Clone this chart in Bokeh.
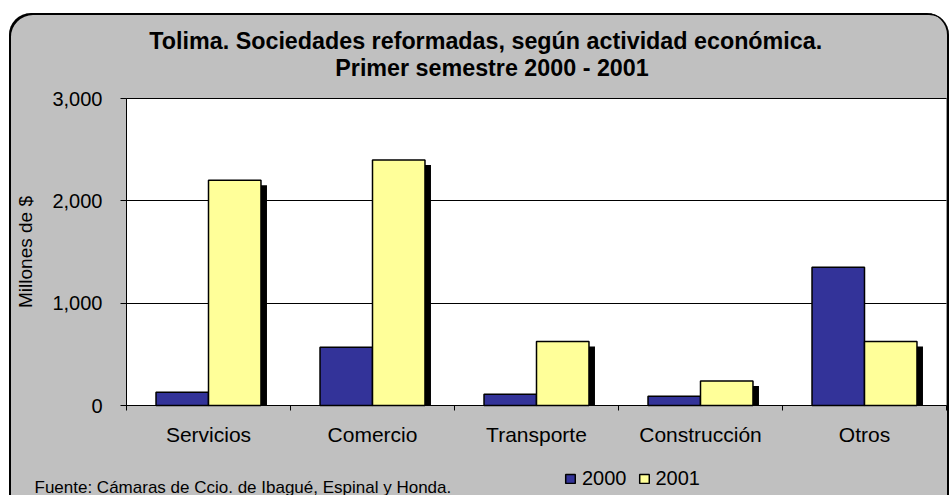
from bokeh.plotting import figure
from bokeh.models import (ColumnDataSource, FixedTicker, NumeralTickFormatter, Label,
                          BoxAnnotation, Legend, LegendItem, Range1d)
from bokeh.transform import dodge
from bokeh.embed import file_html
from bokeh.resources import INLINE

# ---- data ----
categories = ["Servicios", "Comercio", "Transporte", "Construcción", "Otros"]
values_2000 = [130, 570, 110, 90, 1350]
values_2001 = [2200, 2400, 625, 240, 625]
series_names = ["2000", "2001"]
y_ticks = [0, 1000, 2000, 3000]
y_max = 3000
title_lines = ["Tolima.  Sociedades reformadas, según actividad económica.",
               "Primer semestre 2000 - 2001"]
source_note = "Fuente: Cámaras de Ccio. de Ibagué, Espinal y Honda."
y_label = "Millones de $"

# ---- layout (page pixels) ----
PAGE_W, PAGE_H = 949, 495
OFF_X, OFF_Y = 9, 13                 # white strip left of / above the rounded panel
W, H = PAGE_W - OFF_X, PAGE_H - OFF_Y
PLOT_L, PLOT_R, PLOT_T, PLOT_B = 126, 946, 98, 405   # white plotting area
FONT = "Liberation Sans"
GRAY = "#C0C0C0"
C2000 = "#333399"
C2001 = "#FFFF99"
BAR_W = 0.32
SH_DX_PX, SH_DY_PX = 6, 5

n = len(categories)
px_per_cat = (PLOT_R - PLOT_L) / n
px_per_unit = (PLOT_B - PLOT_T) / y_max
x_range = Range1d(-(PLOT_L - OFF_X) / px_per_cat, n + (PAGE_W - PLOT_R) / px_per_cat)
y_range = Range1d(-(PAGE_H - PLOT_B) / px_per_unit, y_max + (PLOT_T - OFF_Y) / px_per_unit)

centers = [i + 0.5 for i in range(n)]
src = ColumnDataSource(dict(x=centers, cat=categories, v2000=values_2000, v2001=values_2001))

p = figure(width=W, height=H, x_range=x_range, y_range=y_range,
           output_backend="svg", toolbar_location=None,
           min_border=0, min_border_left=0, min_border_right=0, min_border_top=0,
           min_border_bottom=0, background_fill_color=None, border_fill_color=None,
           outline_line_color=None, margin=(OFF_Y, 0, 0, OFF_X))
p.title.visible = False
p.styles = {"background-color": GRAY,
            "border-radius": "22px 22px 0 0",
            "box-shadow": "inset 2px 2px 0 0 black, inset -2px 0 0 0 black"}

# white plotting area with black frame
p.add_layout(BoxAnnotation(left=0, right=n, bottom=0, top=y_max, fill_color="white",
                           fill_alpha=1, line_color="black", line_width=1, level="image"))

# grid lines limited to the plotting area
p.xgrid.grid_line_color = None
p.ygrid.ticker = FixedTicker(ticks=y_ticks)
p.ygrid.grid_line_color = "black"
p.ygrid.grid_line_width = 1
try:
    p.ygrid.cross_bounds = (0, n)
except Exception:
    p.ygrid.visible = False
    p.segment(x0=0, x1=n, y0=y_ticks, y1=y_ticks, line_color="black", line_width=1,
              level="underlay")

# bars (2001 series carries a drop shadow)
r2000 = p.vbar(x=dodge("x", -BAR_W / 2, range=p.x_range), top="v2000", bottom=0, width=BAR_W,
               source=src, fill_color=C2000, line_color="black", line_width=1.5)
dx = SH_DX_PX / px_per_cat
dy = -SH_DY_PX / px_per_unit
p.vbar(x=dodge("x", BAR_W / 2 + dx, range=p.x_range), top=dodge("v2001", dy, range=p.y_range),
       bottom=0, width=BAR_W, source=src, fill_color="black", line_color=None)
r2001 = p.vbar(x=dodge("x", BAR_W / 2, range=p.x_range), top="v2001", bottom=0, width=BAR_W,
               source=src, fill_color=C2001, line_color="black", line_width=1.5)

# y axis
ya = p.yaxis[0]
ya.fixed_location = 0
ya.bounds = (0, y_max)
ya.ticker = FixedTicker(ticks=y_ticks)
ya.formatter = NumeralTickFormatter(format="0,0")
ya.major_tick_out = 6
ya.major_tick_in = 0
ya.minor_tick_line_color = None
ya.axis_line_color = "black"
ya.major_tick_line_color = "black"
ya.major_label_text_font = FONT
ya.major_label_text_font_size = "20px"
ya.major_label_text_color = "black"
ya.major_label_standoff = 18
ya.axis_label = y_label
ya.axis_label_text_font = FONT
ya.axis_label_text_font_size = "19px"
ya.axis_label_text_font_style = "normal"
ya.axis_label_text_color = "black"
ya.axis_label_standoff = 13

# x axis: labels at category centres, ticks at category boundaries
xa = p.xaxis[0]
xa.fixed_location = 0
xa.bounds = (0, n)
xa.ticker = FixedTicker(ticks=centers, minor_ticks=list(range(n + 1)))
xa.major_label_overrides = {c: name for c, name in zip(centers, categories)}
xa.major_tick_line_color = None
xa.major_tick_out = 0
xa.major_tick_in = 0
xa.minor_tick_out = 5
xa.minor_tick_in = 0
xa.minor_tick_line_color = "black"
xa.axis_line_color = "black"
xa.major_label_text_font = FONT
xa.major_label_text_font_size = "21px"
xa.major_label_text_color = "black"
xa.major_label_standoff = 12

# title (two lines), positions in screen px from the panel's bottom-left
for txt, cx, base in [(title_lines[0], 488.5, 40.7), (title_lines[1], 491.5, 67.7)]:
    p.add_layout(Label(x=cx - OFF_X, y=PAGE_H - base, x_units="screen", y_units="screen",
                       text=txt, text_font=FONT, text_font_size="23.3px", text_font_style="bold",
                       text_align="center", text_baseline="alphabetic", text_color="black"))

# source note
p.add_layout(Label(x=34 - OFF_X, y=PAGE_H - 486.5, x_units="screen", y_units="screen",
                   text=source_note, text_font=FONT, text_font_size="17px",
                   text_align="left", text_baseline="alphabetic", text_color="black"))

# legend
legend = Legend(items=[LegendItem(label=series_names[0], renderers=[r2000]),
                       LegendItem(label=series_names[1], renderers=[r2001])],
                location=(564 - OFF_X, PAGE_H - 490), orientation="horizontal",
                padding=0, margin=0, spacing=11, label_standoff=6,
                glyph_width=12, glyph_height=11, border_line_color=None,
                background_fill_alpha=0, label_text_font=FONT, label_text_font_size="20px",
                label_text_color="black")
p.add_layout(legend)

html = file_html(p, INLINE)
open("out.html", "w").write(html)
